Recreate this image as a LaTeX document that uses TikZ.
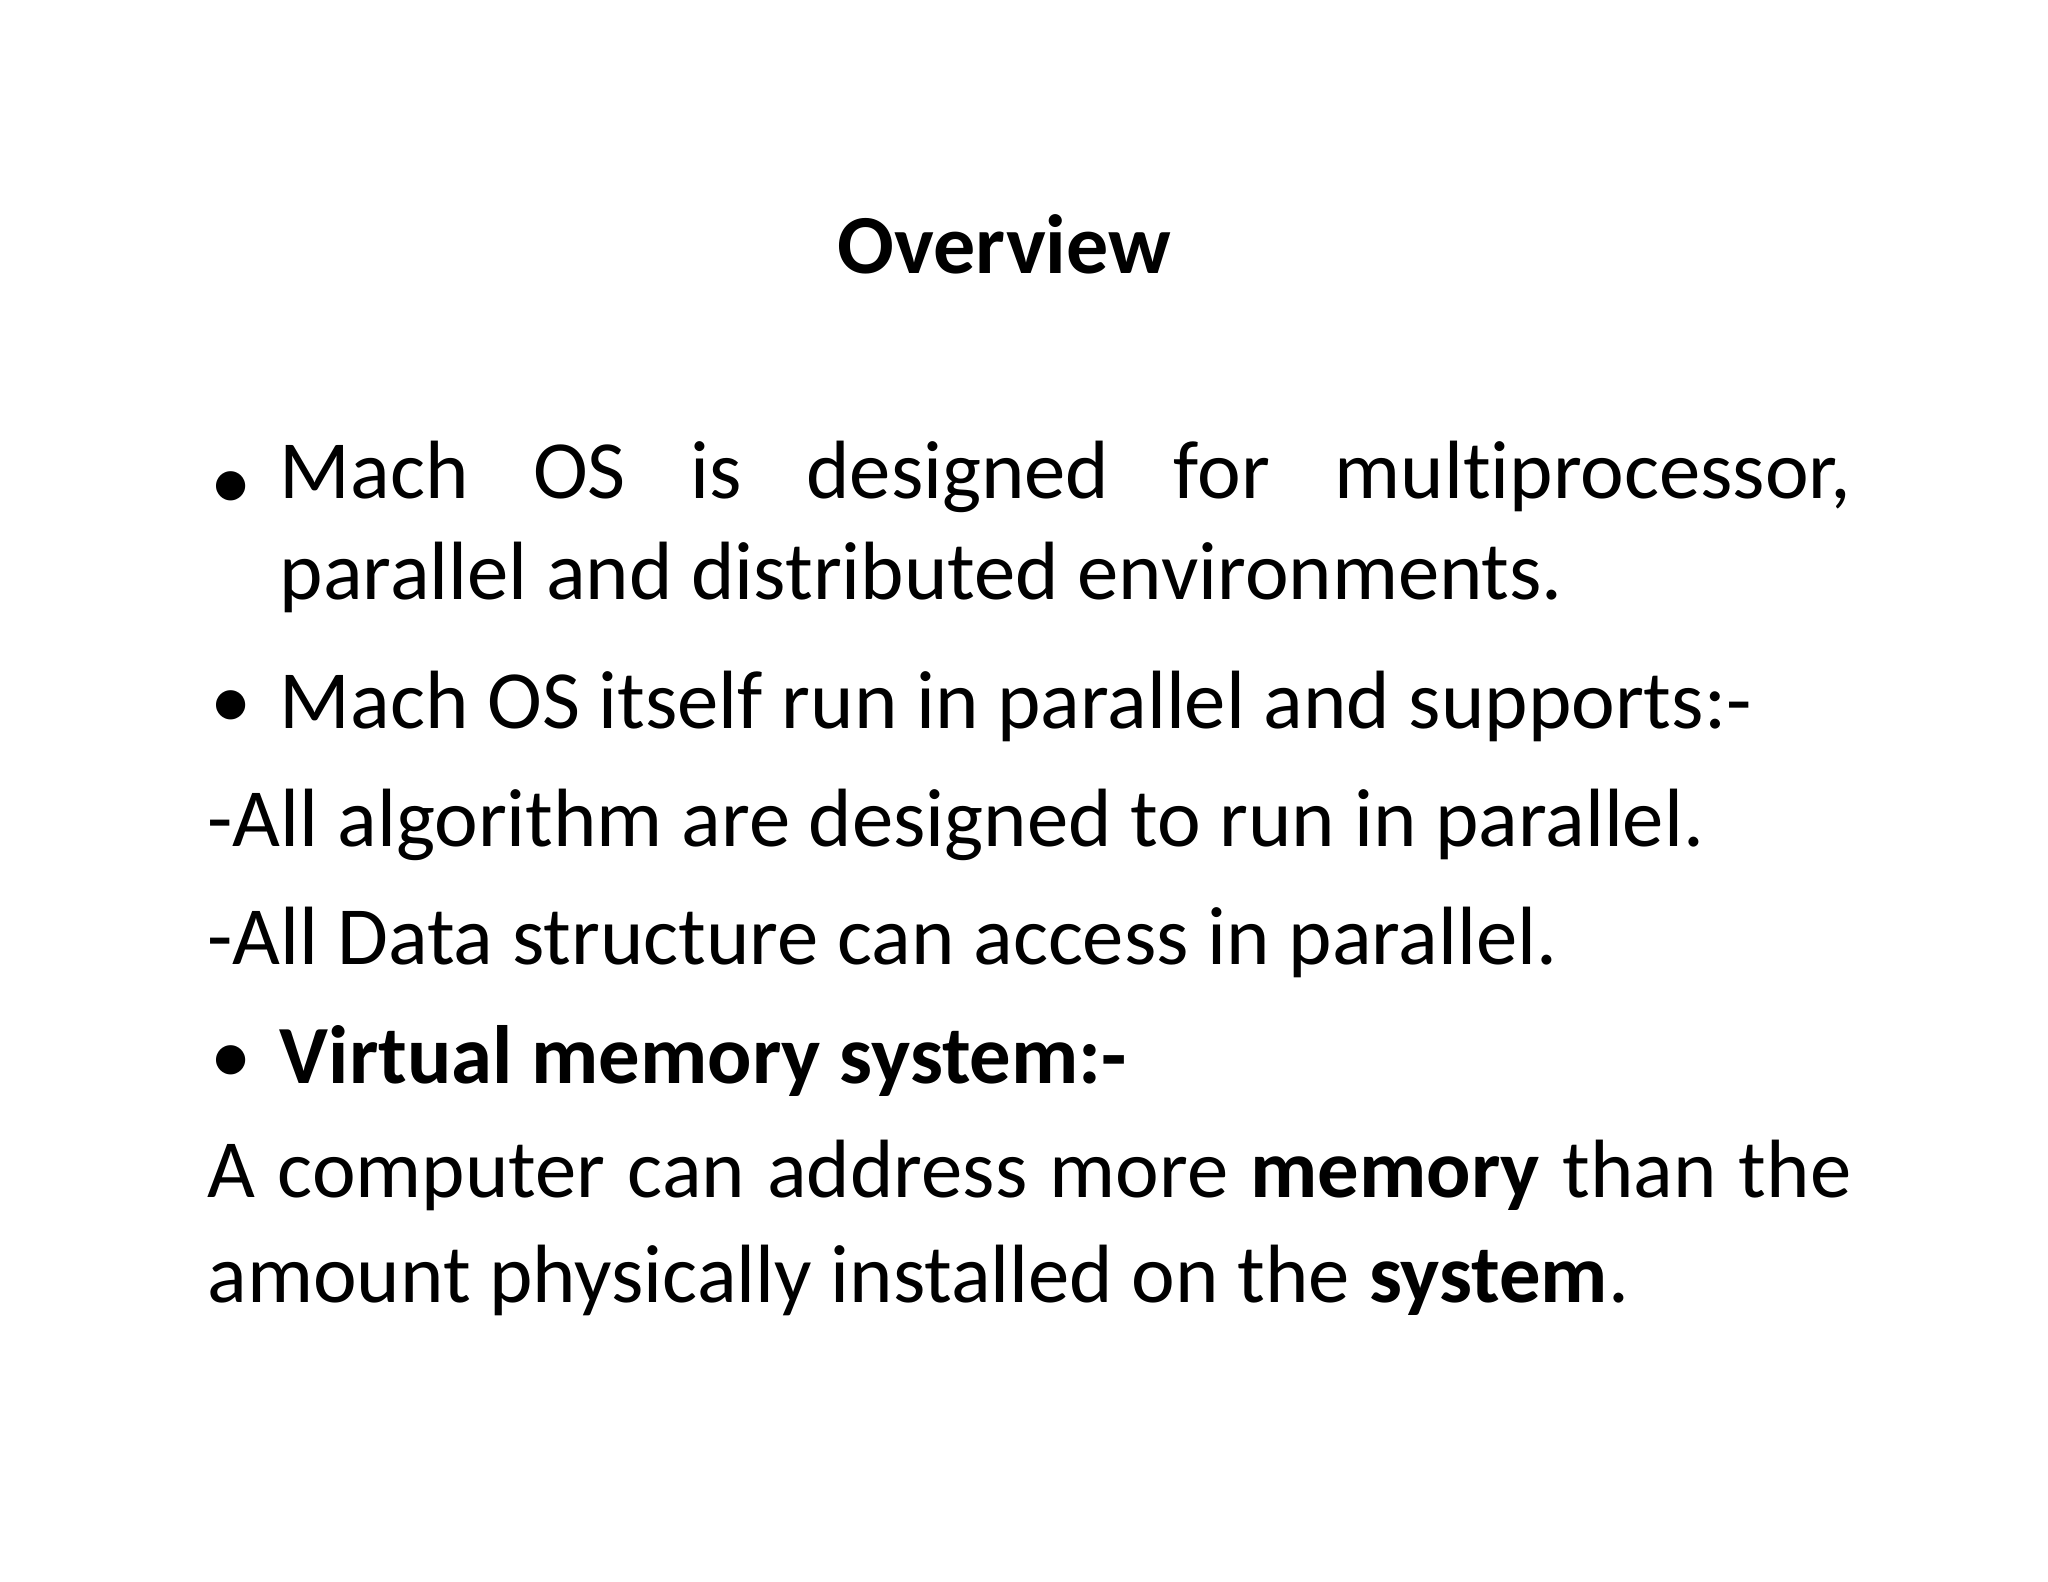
\documentclass[tikz,border=0pt]{standalone}
\usepackage{fontspec}
\setmainfont{Carlito}[Ligatures=NoCommon]
\begin{document}
\begin{tikzpicture}[x=1pt,y=-1pt,
  txt/.style={anchor=base west,inner sep=0pt,font=\fontsize{63}{77}\selectfont}]
\useasboundingbox (0,0) rectangle (1560,1205);
\node[anchor=base,inner sep=0pt,font=\fontsize{64}{80}\selectfont\bfseries] (title) at (765,208) {Overview};
\node[txt] (b1) at (160,388) {•};
\node[txt,anchor=north west] (p1) at (213,336) {\parbox[t]{1197pt}{\fontsize{63}{77}\selectfont\hyphenpenalty=10000\noindent Mach OS is designed for multiprocessor, parallel and distributed environments.}};
\node[txt] (b2) at (160,555) {•};
\node[txt] (l3) at (213,555) {Mach OS itself run in parallel and supports:-};
\node[txt] (l4) at (158,645) {-All algorithm are designed to run in parallel.};
\node[txt] (l5) at (158,735) {-All Data structure can access in parallel.};
\node[txt] (b3) at (160,825) {•};
\node[txt] (l6) at (213,825) {\bfseries Virtual memory system:-};
\node[txt,anchor=north west] (p2) at (158,868) {\parbox[t]{1252pt}{\fontsize{63}{80}\selectfont\hyphenpenalty=10000\noindent A computer can address more \textbf{memory} than the amount physically installed on the \textbf{system}.}};
\end{tikzpicture}
\end{document}
